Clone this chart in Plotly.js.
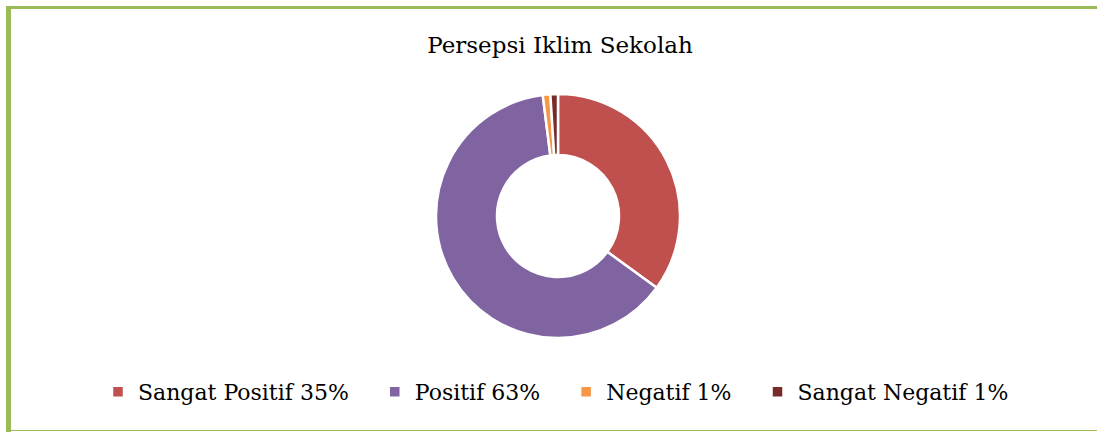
<!DOCTYPE html>
<html>
<head>
<meta charset="utf-8">
<script src="https://cdn.plot.ly/plotly-3.0.1.min.js"></script>
<style>html,body{margin:0;padding:0;background:#fff;}#chart{width:1097px;height:432px;}</style>
</head>
<body>
<div id="chart"></div>
<script>
const categories = ["Sangat Positif 35%", "Positif 63%", "Negatif 1%", "Sangat Negatif 1%"];
const values = [35, 63, 1, 1];
const colors = ["#C0504D", "#8064A2", "#F79646", "#772C2A"];
const chartTitle = "Persepsi Iklim Sekolah";

const W = 1097, H = 432;
const cx = 558, cy = 216, R = 122;
const FONT = "'DejaVu Serif', serif";
const pad = "\u00a0\u00a0\u00a0";

const trace = {
  type: "pie",
  labels: categories.map(c => c + pad),
  values: values,
  sort: false,
  direction: "clockwise",
  rotation: 0,
  hole: 0.5,
  textinfo: "none",
  hoverinfo: "none",
  marker: {colors: colors, line: {color: "#ffffff", width: 2.5}},
  domain: {x: [(cx - R) / W, (cx + R) / W], y: [(H - cy - R) / H, (H - cy + R) / H]}
};

const green = "#9BBB59";
const layout = {
  width: W, height: H,
  margin: {l: 0, r: 0, t: 0, b: 0},
  paper_bgcolor: "#ffffff",
  title: {text: chartTitle, x: 560 / W, xanchor: "center", y: 1 - 45 / H, yanchor: "middle", yref: "container",
          font: {family: FONT, size: 23, color: "#000"}},
  showlegend: true,
  legend: {orientation: "h", x: 98 / W, xanchor: "left", y: (H - 392) / H, yanchor: "middle",
           font: {family: FONT, size: 22, color: "#000"}, traceorder: "normal"},
  shapes: [
    {type: "rect", xref: "paper", yref: "paper", x0: 6 / W, x1: 11 / W, y0: 0, y1: (H - 6) / H, fillcolor: green, line: {width: 0}},
    {type: "rect", xref: "paper", yref: "paper", x0: 6 / W, x1: 1, y0: (H - 9) / H, y1: (H - 6) / H, fillcolor: green, line: {width: 0}},
    {type: "rect", xref: "paper", yref: "paper", x0: 6 / W, x1: 1, y0: 1 / H, y1: 2 / H, fillcolor: green, line: {width: 0}}
  ]
};

Plotly.newPlot("chart", [trace], layout, {displayModeBar: false, staticPlot: true});
</script>
</body>
</html>
